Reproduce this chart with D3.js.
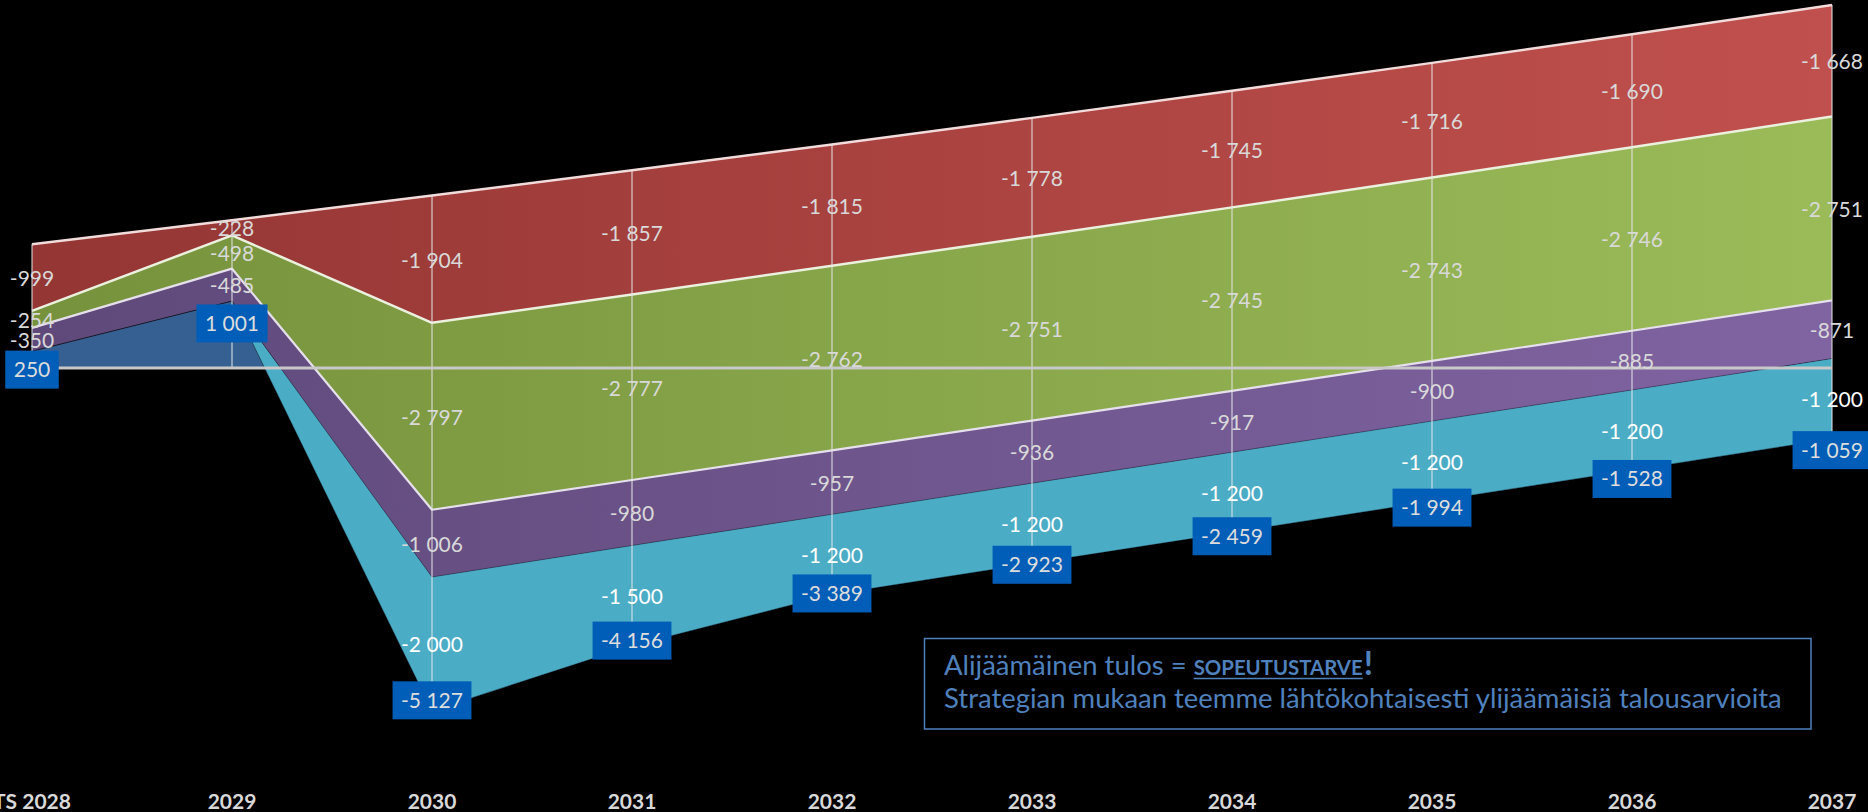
<!DOCTYPE html>
<html><head><meta charset="utf-8">
<script src="https://cdn.jsdelivr.net/npm/d3@7"></script>
<style>html,body{margin:0;padding:0;background:#000;overflow:hidden} svg{display:block}</style>
</head><body><svg id="c" width="1868" height="812"></svg>
<script>
// ---- data ----
const categories = ["TS 2028","2029","2030","2031","2032","2033","2034","2035","2036","2037"];
const punainen  = [-999, -228, -1904, -1857, -1815, -1778, -1745, -1716, -1690, -1668];
const vihrea    = [-254, -498, -2797, -2777, -2762, -2751, -2745, -2743, -2746, -2751];
const violetti  = [-350, -485, -1006, -980, -957, -936, -917, -900, -885, -871];
const turkoosi  = [null, null, -2000, -1500, -1200, -1200, -1200, -1200, -1200, -1200];
const tulos     = [250, 1001, -5127, -4156, -3389, -2923, -2459, -1994, -1528, -1059];
const noteLine1 = "Alijäämäinen tulos = ";
const noteEmph  = "SOPEUTUSTARVE";
const noteBang  = "!";
const noteLine2 = "Strategian mukaan teemme lähtökohtaisesti ylijäämäisiä talousarvioita";

// ---- setup ----
const W = 1868, H = 812;
const FONT = "Lato, 'Open Sans', sans-serif";
const svg = d3.select("#c");
svg.append("rect").attr("width", W).attr("height", H).attr("fill", "#000");

const x  = d3.scalePoint().domain(categories).range([32, 1832]);
const y  = d3.scaleLinear().domain([-5000, 5000]).range([702.2, 33.8]);
const y2 = d3.scaleLinear().domain([-5000, 5000]).range([692.5, 77.5]); // hidden secondary axis for result labels

const loc = d3.formatLocale({decimal: ",", thousands: " ", grouping: [3], currency: ["", ""], minus: "-"});
const fmt = loc.format(",d");

const seriesDefs = [
  {key: "turkoosi", values: turkoosi, c0: "#4BACC6", c1: "#4BACC6", stroke: "rgba(0,0,0,0.35)", sw: 1, label: "#FFFFFF"},
  {key: "violetti", values: violetti, c0: "#5F497A", c1: "#8064A2", stroke: "#E6E0EC", sw: 2.2, label: "#D9D9D9"},
  {key: "vihrea",   values: vihrea,   c0: "#76923C", c1: "#9BBB59", stroke: "#EBF1DE", sw: 2.5, label: "#D9D9D9"},
  {key: "punainen", values: punainen, c0: "#943634", c1: "#C0504D", stroke: "#F2DCDB", sw: 2.5, label: "#D9D9D9"}
];

// stacking magnitudes upward from the result line
const rows = categories.map((c, i) => {
  let base = tulos[i];
  const bands = seriesDefs.map(s => {
    const v = s.values[i];
    const m = Math.abs(v || 0);
    const b = {y0: base, y1: base + m, v};
    base += m;
    return b;
  });
  return {c, total: tulos[i], bands, top: base};
});

const defs = svg.append("defs");
seriesDefs.forEach(s => {
  const g = defs.append("linearGradient").attr("id", "g-" + s.key)
    .attr("gradientUnits", "userSpaceOnUse")
    .attr("x1", x(categories[0])).attr("x2", x(categories[categories.length - 1]))
    .attr("y1", 0).attr("y2", 0);
  g.append("stop").attr("offset", 0).attr("stop-color", s.c0);
  g.append("stop").attr("offset", 1).attr("stop-color", s.c1);
});

// result area (0 -> total), behind
svg.append("path").datum(rows)
  .attr("d", d3.area().x(d => x(d.c)).y0(y(0)).y1(d => y(d.total)))
  .attr("fill", "#376092");

// stacked areas
seriesDefs.forEach((s, k) => {
  svg.append("path").datum(rows)
    .attr("d", d3.area().x(d => x(d.c)).y0(d => y(d.bands[k].y0)).y1(d => y(d.bands[k].y1)))
    .attr("fill", `url(#g-${s.key})`);
});
// cyan bottom edge
svg.append("path").datum(rows)
  .attr("d", d3.line().x(d => x(d.c)).y(d => y(d.total)))
  .attr("fill", "none").attr("stroke", "rgba(0,0,0,0.35)").attr("stroke-width", 1);
// top outlines
seriesDefs.forEach((s, k) => {
  svg.append("path").datum(rows)
    .attr("d", d3.line().x(d => x(d.c)).y(d => y(d.bands[k].y1)))
    .attr("fill", "none").attr("stroke", s.stroke).attr("stroke-width", s.sw)
    .attr("stroke-linejoin", "round");
});

// drop lines
svg.append("g").selectAll("line").data(rows).join("line")
  .attr("x1", d => x(d.c)).attr("x2", d => x(d.c))
  .attr("y1", d => y(Math.max(0, d.top))).attr("y2", d => y(Math.min(0, d.total)))
  .attr("stroke", "rgba(230,230,230,0.5)").attr("stroke-width", 2);

// zero axis line
svg.append("line")
  .attr("x1", x(categories[0])).attr("x2", x(categories[categories.length - 1]))
  .attr("y1", y(0)).attr("y2", y(0))
  .attr("stroke", "#C8C8C8").attr("stroke-width", 3);

// band labels
const lab = svg.append("g").attr("font-family", FONT).attr("font-size", 21).attr("text-anchor", "middle");
seriesDefs.forEach((s, k) => {
  rows.forEach(r => {
    const b = r.bands[k];
    if (b.v === null || b.v === undefined) return;
    lab.append("text")
      .attr("x", x(r.c)).attr("y", y((b.y0 + b.y1) / 2) + 8.5)
      .attr("fill", s.label).text(fmt(b.v));
  });
});

// result boxes
const boxes = svg.append("g").attr("font-family", FONT).attr("font-size", 21);
rows.forEach(r => {
  const g = boxes.append("g");
  const cy = y2(r.total);
  const t = g.append("text").attr("x", x(r.c)).attr("y", cy + 7.5)
    .attr("text-anchor", "middle").attr("fill", "#DDDDDD").text(fmt(r.total));
  const w = t.node().getComputedTextLength() + 17;
  g.insert("rect", "text").attr("x", x(r.c) - w / 2).attr("y", cy - 19)
    .attr("width", w).attr("height", 38).attr("fill", "#005EB8");
});

// category axis labels
svg.append("g").selectAll("text").data(categories).join("text")
  .attr("x", d => x(d)).attr("y", 809)
  .attr("text-anchor", "middle").attr("font-family", FONT).attr("font-weight", "bold")
  .attr("font-size", 21).attr("fill", "#D9D9D9").text(d => d);

// annotation box
const note = svg.append("g").attr("font-family", FONT).attr("fill", "#4F81BD");
note.append("rect").attr("x", 924.5).attr("y", 638.5).attr("width", 886.5).attr("height", 90.5)
  .attr("fill", "none").attr("stroke", "#4F81BD").attr("stroke-width", 1.5);
const l2 = note.append("text").attr("x", 944).attr("y", 708).attr("font-size", 22).text(noteLine2);
const fs = 22 * 838 / l2.node().getComputedTextLength();
l2.attr("font-size", fs);
const l1 = note.append("text").attr("x", 944).attr("y", 675).attr("font-size", fs)
  .style("white-space", "pre").text(noteLine1);
const x1end = 944 + l1.node().getComputedTextLength();
const em = note.append("text").attr("x", x1end).attr("y", 675).attr("font-size", fs * 0.75)
  .attr("font-weight", "bold").text(noteEmph);
let emW = em.node().getComputedTextLength();
const emFs = fs * 0.75 * 169 / emW;
em.attr("font-size", emFs);
emW = em.node().getComputedTextLength();
note.append("line").attr("x1", x1end).attr("x2", x1end + emW)
  .attr("y1", 678.5).attr("y2", 678.5).attr("stroke", "#4F81BD").attr("stroke-width", 1.6);
note.append("text").attr("x", x1end + emW + 1).attr("y", 675).attr("font-size", fs * 1.2)
  .attr("font-weight", "bold").text(noteBang);
</script></body></html>
